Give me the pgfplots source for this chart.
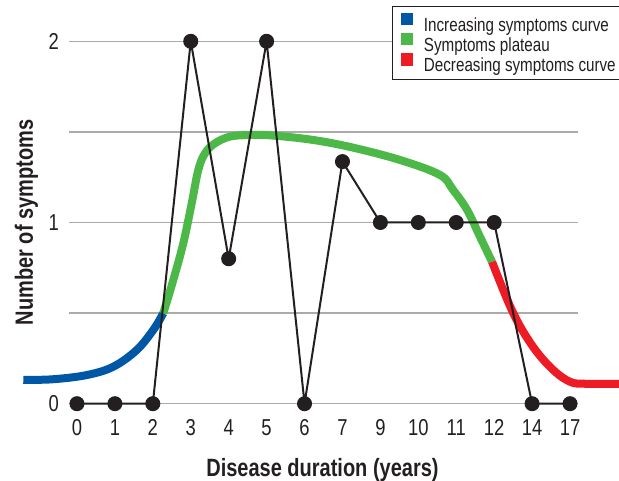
\documentclass[border=0pt]{standalone}
\usepackage{fontspec}
\setmainfont{Liberation Sans}[FakeStretch=0.8]
\usepackage{pgfplots}
\pgfplotsset{compat=1.18}
\definecolor{cblue}{HTML}{0057A6}
\definecolor{cgreen}{HTML}{4CB848}
\definecolor{cred}{HTML}{ED1C24}
\definecolor{cgrid}{HTML}{ABABAB}
\definecolor{cblack}{HTML}{231F20}
\begin{document}
\begin{tikzpicture}
\begin{axis}[
  scale only axis, width=509pt, height=362.4pt,
  xmin=-0.21, xmax=13.21, ymin=0, ymax=2,
  clip=false,
  axis line style={draw=none},
  xtick={0,...,13}, xticklabels={0,1,2,3,4,5,6,7,9,10,11,12,14,17},
  ytick={0,1,2}, minor ytick={0.5,1.5},
  ymajorgrids, yminorgrids,
  major grid style={cgrid, line width=1.5pt},
  minor grid style={cgrid, line width=1.5pt},
  major tick length=0pt, minor tick length=0pt,
  /pgf/number format/assume math mode=true,
  tick label style={font=\fontsize{23}{23}\selectfont, inner sep=0pt, text=cblack},
  yticklabel style={anchor=east, xshift=-10pt},
  xticklabel style={anchor=north, yshift=-16pt},
  xlabel={Disease duration (years)},
  ylabel={Number of symptoms},
  xlabel style={font=\bfseries\fontsize{25}{25}\selectfont, text=cblack, inner sep=0pt, at={(rel axis cs:0.498,0)}, anchor=base, yshift=-73.3pt},
  ylabel style={font=\bfseries\fontsize{25}{25}\selectfont, text=cblack, inner sep=0pt, at={(rel axis cs:0,0.500)}, anchor=base, yshift=36pt},
  legend style={at={(axis description cs:0.6346,1.0974)}, anchor=north west,
    draw=cblack, line width=1.3pt, fill=white,
    font=\fontsize{19}{21}\selectfont, text=cblack,
    inner xsep=8pt, inner ysep=6pt, row sep=0pt, column sep=11pt,
    nodes={inner sep=0pt}},
  legend cell align=left,
]
\addlegendimage{legend image code/.code={\fill[cblue] (0pt,1pt) rectangle (11pt,12pt);}}
\addlegendentry{Increasing symptoms curve}
\addlegendimage{legend image code/.code={\fill[cgreen] (0pt,1pt) rectangle (11pt,12pt);}}
\addlegendentry{Symptoms plateau}
\addlegendimage{legend image code/.code={\fill[cred] (0pt,1pt) rectangle (11pt,12pt);}}
\addlegendentry{Decreasing symptoms curve}

\addplot[forget plot, cblue, line width=8pt, smooth, tension=0.6] coordinates {
(-1.416,0.131)(-0.625,0.135)(0.256,0.158)(0.957,0.204)(1.574,0.296)(2.012,0.407)(2.276,0.499)};
\addplot[forget plot, cgreen, line width=8pt, smooth, tension=0.6] coordinates {
(2.276,0.499)(2.540,0.683)(2.803,0.885)(3.025,1.106)(3.199,1.290)(3.376,1.382)(3.639,1.437)(4.035,1.474)(4.562,1.483)(5.090,1.481)(6.144,1.458)(7.199,1.417)(8.518,1.345)(9.573,1.262)(9.915,1.180)(10.285,1.070)(10.627,0.921)(10.944,0.783)};
\addplot[forget plot, cred, line width=8pt, smooth, tension=0.6] coordinates {
(10.944,0.783)(11.498,0.502)(12.025,0.314)(12.553,0.187)(13.001,0.121)(13.40,0.110)(14.293,0.110)};

\addplot[forget plot, cblack, line width=2pt, mark=*, mark size=6.5pt, mark options={fill=cblack, draw=none}] coordinates {
(0,0)(1,0)(2,0)(3,2)(4,0.8)(5,2)(6,0)(7,1.336)(8,1)(9,1)(10,1)(11,1)(12,0)(13,0)};
\end{axis}
\pgfresetboundingbox
\path[use as bounding box] (-69pt,-77.3pt) rectangle (550pt,403.7pt);
\end{tikzpicture}
\end{document}
